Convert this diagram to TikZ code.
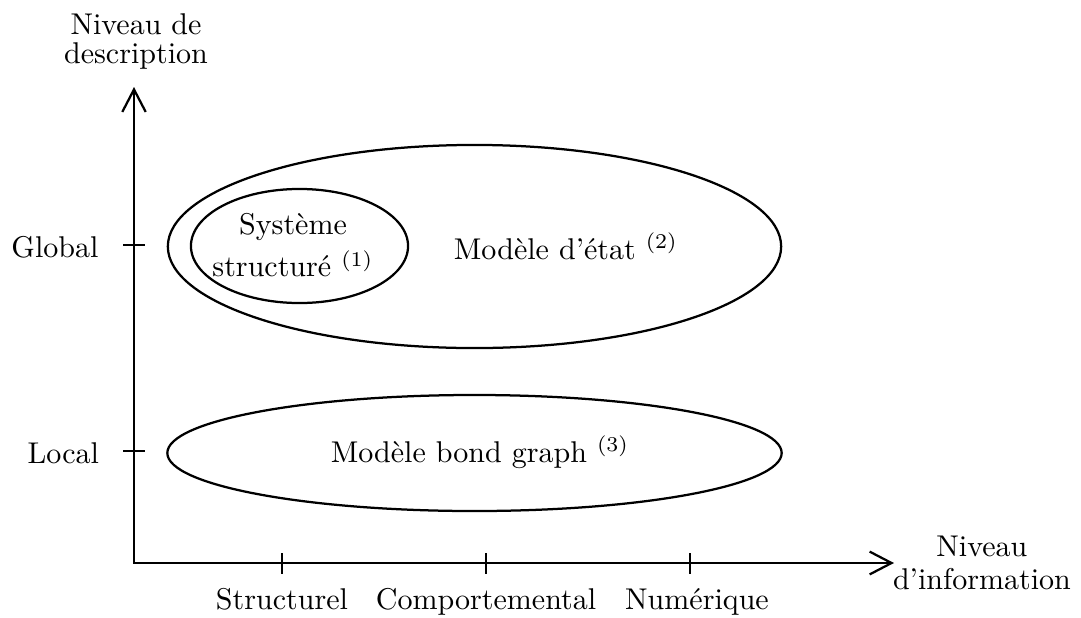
\documentclass[tikz,border=0pt]{standalone}
\usetikzlibrary{arrows.meta,shapes.geometric}
\begin{document}
\begin{tikzpicture}[x=0.01171cm,y=-0.01171cm,
  axis/.style={line width=0.75pt,line join=miter},
  tick/.style={line width=0.75pt},
  zone/.style={ellipse,draw,line width=0.75pt,inner sep=0pt,outer sep=0pt},
  lab/.style={inner sep=0pt,outer sep=0pt}]
\useasboundingbox (0,0) rectangle (1081,617);
% axes
\coordinate (O) at (134,563);
\coordinate (Y) at (134,87);
\coordinate (X) at (894,563);
\draw[axis,{Straight Barb[length=7.5pt,width=7.8pt]}-{Straight Barb[length=7.3pt,width=7.6pt]}] (Y) -- (O) -- (X);
% y ticks
\coordinate (g1) at (123,245); \coordinate (g2) at (145,245);
\coordinate (l1) at (123,451); \coordinate (l2) at (145,451);
\draw[tick] (g1) -- (g2);
\draw[tick] (l1) -- (l2);
% x ticks
\coordinate (s1) at (282,553); \coordinate (s2) at (282,574);
\coordinate (c1) at (486,553); \coordinate (c2) at (486,574);
\coordinate (n1) at (690,553); \coordinate (n2) at (690,574);
\draw[tick] (s1) -- (s2);
\draw[tick] (c1) -- (c2);
\draw[tick] (n1) -- (n2);
% axis labels
\node[lab,anchor=base east] (glob) at (98.5,257) {Global};
\node[lab,anchor=base east] (loc) at (99,463) {Local};
\node[lab,anchor=base] (struc) at (282,609) {Structurel};
\node[lab,anchor=base] (comp) at (486,609) {Comportemental};
\node[lab,anchor=base] (num) at (697,609) {Numérique};
\node[lab,anchor=south,align=center] (ylab) at (136,69) {Niveau de\\[-2.5pt]description};
\node[lab,anchor=south west,align=center] (xlab) at (893,590) {Niveau\\[-1pt]d’information};
% ellipses
\node[zone,minimum width=7.178cm,minimum height=2.377cm] (etat) at (474.5,246.5) {};
\node[zone,minimum width=2.541cm,minimum height=1.335cm] (sys) at (299.5,246) {};
\node[zone,minimum width=7.190cm,minimum height=1.358cm] (bond) at (474.5,453) {};
% texts
\node[lab,anchor=base] (etatT) at (566,259) {Modèle d’état $^{(2)}$};
\node[lab,align=center] (sysT) at (293,245.5) {Système\\[2pt]structuré $^{(1)}$};
\node[lab,anchor=base] (bondT) at (480,462) {Modèle bond graph $^{(3)}$};
\end{tikzpicture}
\end{document}
